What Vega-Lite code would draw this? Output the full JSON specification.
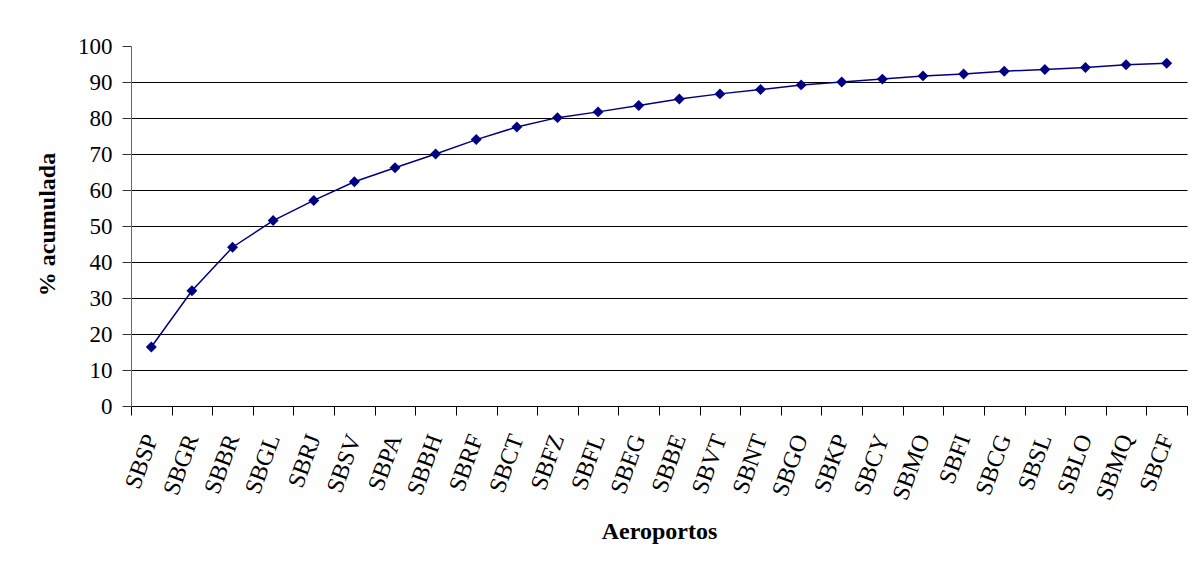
{
  "$schema": "https://vega.github.io/schema/vega-lite/v6.json",
  "autosize": "none",
  "width": 1056,
  "height": 360,
  "padding": {"left": 131, "top": 46, "right": 7, "bottom": 159},
  "background": "white",
  "config": {
    "view": {"stroke": null},
    "font": "Liberation Serif"
  },
  "data": {
    "values": [
      {"aeroporto": "SBSP", "pct": 16.4},
      {"aeroporto": "SBGR", "pct": 32.0},
      {"aeroporto": "SBBR", "pct": 44.1},
      {"aeroporto": "SBGL", "pct": 51.5},
      {"aeroporto": "SBRJ", "pct": 57.1},
      {"aeroporto": "SBSV", "pct": 62.3},
      {"aeroporto": "SBPA", "pct": 66.2},
      {"aeroporto": "SBBH", "pct": 70.0},
      {"aeroporto": "SBRF", "pct": 74.0},
      {"aeroporto": "SBCT", "pct": 77.5},
      {"aeroporto": "SBFZ", "pct": 80.1},
      {"aeroporto": "SBFL", "pct": 81.7},
      {"aeroporto": "SBEG", "pct": 83.5},
      {"aeroporto": "SBBE", "pct": 85.3},
      {"aeroporto": "SBVT", "pct": 86.7},
      {"aeroporto": "SBNT", "pct": 87.9},
      {"aeroporto": "SBGO", "pct": 89.2},
      {"aeroporto": "SBKP", "pct": 90.0},
      {"aeroporto": "SBCY", "pct": 90.8},
      {"aeroporto": "SBMO", "pct": 91.7},
      {"aeroporto": "SBFI", "pct": 92.2},
      {"aeroporto": "SBCG", "pct": 93.0},
      {"aeroporto": "SBSL", "pct": 93.5},
      {"aeroporto": "SBLO", "pct": 94.0},
      {"aeroporto": "SBMQ", "pct": 94.8},
      {"aeroporto": "SBCF", "pct": 95.2}
    ]
  },
  "encoding": {
    "x": {
      "field": "aeroporto",
      "type": "nominal",
      "sort": null,
      "scale": {"paddingInner": 0, "paddingOuter": 0},
      "axis": {
        "title": "Aeroportos",
        "titleFont": "Liberation Serif",
        "titleFontSize": 24,
        "titleFontWeight": "bold",
        "titleColor": "black",
        "titleBaseline": "middle",
        "titleY": 125,
        "labelFont": "Liberation Serif",
        "labelFontSize": 24,
        "labelColor": "black",
        "labelAngle": -70,
        "labelPadding": 20,
        "labelOverlap": false,
        "tickBand": "extent",
        "tickSize": 9,
        "tickColor": "black",
        "domainColor": "black",
        "grid": false
      }
    },
    "y": {
      "field": "pct",
      "type": "quantitative",
      "scale": {"domain": [0, 100], "nice": false, "zero": true},
      "axis": {
        "title": "% acumulada",
        "titleFont": "Liberation Serif",
        "titleFontSize": 24,
        "titleFontWeight": "bold",
        "titleColor": "black",
        "titleAngle": -90,
        "titleBaseline": "middle",
        "titleAlign": "center",
        "titleX": -84,
        "titleY": 178,
        "values": [0, 10, 20, 30, 40, 50, 60, 70, 80, 90, 100],
        "labelFont": "Liberation Serif",
        "labelFontSize": 23,
        "labelColor": "black",
        "labelPadding": 10,
        "tickSize": 9,
        "tickColor": "#333333",
        "domainColor": "#666666",
        "grid": true,
        "gridColor": "black",
        "gridWidth": 1,
        "gridOpacity": {"condition": {"test": "datum.value == 100", "value": 0}, "value": 1}
      }
    }
  },
  "layer": [
    {"mark": {"type": "line", "color": "#000080", "strokeWidth": 1.5}},
    {"mark": {"type": "point", "shape": "diamond", "filled": true, "color": "#000080", "opacity": 1, "size": 120}}
  ]
}
